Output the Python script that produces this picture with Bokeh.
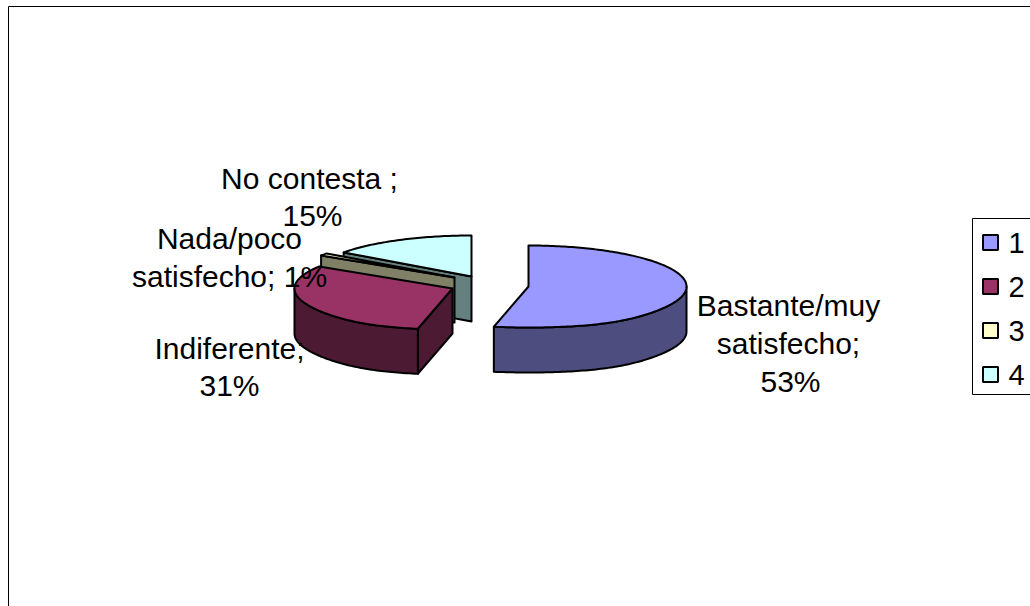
import numpy as np
from bokeh.core.properties import value
from bokeh.embed import file_html
from bokeh.models import Range1d
from bokeh.plotting import figure
from bokeh.resources import INLINE

# Survey shares, in percent
categories = ["Bastante/muy satisfecho", "Indiferente", "Nada/poco satisfecho", "No contesta"]
shares = [53, 31, 1, 15]
legend_labels = ["1", "2", "3", "4"]
top_colors = ["#9999FF", "#993366", "#FFFFCC", "#CCFFFF"]
wall_colors = ["#4D4D80", "#4D1A33", "#808066", "#668080"]

# Projection of the tilted pie, and where each exploded slice has its apex
RX, RY, DEPTH = 158, 41, 45
FLARE = 0.19  # perspective widening right at the near edge of the pie
apexes = [(528, 286), (452, 288), (454, 277), (471, 276)]
FONT = value("Liberation Sans")
INK = "#000000"

p = figure(width=1030, height=606, output_backend="svg", toolbar_location=None,
           x_range=Range1d(0, 1030), y_range=Range1d(606, 0),
           min_border=0, outline_line_color=None, background_fill_color="#FFFFFF",
           border_fill_color="#FFFFFF")
p.axis.visible = False
p.grid.visible = False

# Chart area frame, running off the right and bottom of the page
p.line(x=[8, 8, 1040], y=[620, 6, 6], line_color=INK, line_width=1)


def rim(apex, start, stop, dy=0):
    """Points along the projected circle, angles clockwise from 12 o'clock."""
    steps = max(2, int(abs(stop - start)) + 1)
    a = np.radians(np.linspace(start, stop, steps))
    widen = 1 + FLARE * np.clip(-np.cos(a), 0, 1) ** 6
    return apex[0] + RX * np.sin(a) * widen, apex[1] - RY * np.cos(a) + dy


# Slice angles from the shares
edges = np.concatenate([[0], np.cumsum(shares)]) / sum(shares) * 360
spans = list(zip(edges[:-1], edges[1:]))


def draw_slice(i):
    start, stop = spans[i]
    apex = apexes[i]
    style = dict(line_color=INK, line_width=2, line_join="round")

    # Cut face on the leading edge, for every slice whose edge turns towards the viewer
    if i >= 1:
        tx, ty = rim(apex, start, start)
        ex, ey = tx[0], ty[0]
        p.patch([apex[0], ex, ex, apex[0]], [apex[1], ey, ey + DEPTH, apex[1] + DEPTH],
                fill_color=wall_colors[i], **style)

    # Outer wall on the front half of the rim
    lo, hi = max(start, 90), min(stop, 270)
    if lo < hi:
        tx, ty = rim(apex, lo, hi)
        bx, by = rim(apex, hi, lo, DEPTH)
        p.patch(np.concatenate([tx, bx]), np.concatenate([ty, by]),
                fill_color=wall_colors[i], **style)

    # Top face
    tx, ty = rim(apex, start, stop)
    p.patch(np.concatenate([[apex[0]], tx]), np.concatenate([[apex[1]], ty]),
            fill_color=top_colors[i], **style)


# Back slices first so the nearer ones cover them
for i in [3, 2, 1, 0]:
    draw_slice(i)

# Data labels, centred on their anchors
label_rows = [
    ("Bastante/muy", 788, 305), ("satisfecho;", 788, 343), (f"{shares[0]}%", 790, 381),
    ("Indiferente;", 229, 348), (f"{shares[1]}%", 229, 385),
    ("Nada/poco", 229, 238), (f"satisfecho; {shares[2]}%", 229, 276),
    ("No contesta ;", 309, 178), (f"{shares[3]}%", 312, 215),
]
p.text(x=[r[1] for r in label_rows], y=[r[2] for r in label_rows], text=[r[0] for r in label_rows],
       text_font=FONT, text_font_size="30px", text_color=INK,
       text_align="center", text_baseline="middle")

# Legend box, cut off by the page edge like the chart frame
p.quad(left=[972], right=[1040], top=[218], bottom=[394],
       fill_color="#FFFFFF", line_color=INK, line_width=1)
legend_y = [242, 286, 330, 374]
p.rect(x=[990] * 4, y=legend_y, width=15, height=15, fill_color=top_colors,
       line_color=INK, line_width=2)
p.text(x=[1008] * 4, y=legend_y, text=legend_labels, text_font=FONT, text_font_size="29px",
       text_color=INK, text_align="left", text_baseline="middle")

open("out.html", "w").write(file_html(p, INLINE))
